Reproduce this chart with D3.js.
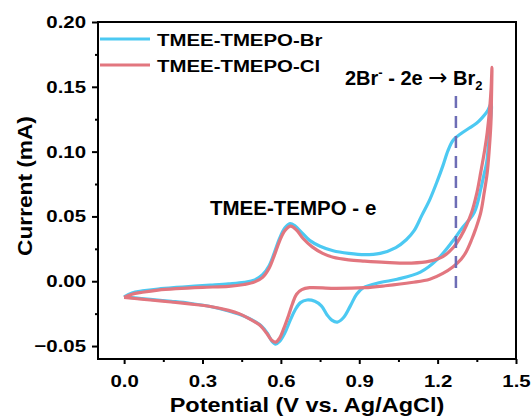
<!DOCTYPE html>
<html>
<head>
<meta charset="utf-8">
<script src="https://cdn.jsdelivr.net/npm/d3@7"></script>
<style>
  body { margin: 0; background: #fff; }
  svg text { font-family: "Liberation Sans", Arial, sans-serif; font-weight: bold; fill: #000; }
</style>
</head>
<body>
<div id="chart"></div>
<script>
// potential (V) / current (mA)
const brForward = [
  [0.00,-0.0120],[0.03,-0.0090],[0.07,-0.0075],[0.13,-0.0060],[0.20,-0.0048],[0.27,-0.0038],
  [0.33,-0.0030],[0.40,-0.0020],[0.46,-0.0008],[0.50,0.0010],[0.53,0.0050],[0.555,0.0120],
  [0.575,0.0220],[0.595,0.0330],[0.615,0.0410],[0.635,0.0445],[0.655,0.0425],[0.68,0.0375],
  [0.71,0.0315],[0.75,0.0270],[0.80,0.0235],[0.86,0.0215],[0.92,0.0205],[0.98,0.0215],
  [1.04,0.0260],[1.08,0.0320],[1.11,0.0390],[1.14,0.0510],[1.17,0.0630],[1.20,0.0780],
  [1.22,0.0890],[1.24,0.1010],[1.26,0.1090],[1.29,0.1140],[1.32,0.1180],[1.35,0.1220],
  [1.37,0.1260],[1.39,0.1310],[1.405,0.1370]
];
const brReverse = [
  [1.405,0.1370],[1.398,0.1150],[1.388,0.0920],[1.375,0.0800],[1.365,0.0710],[1.34,0.0530],
  [1.29,0.0400],[1.258,0.0310],[1.20,0.0170],[1.134,0.0070],[1.045,0.0015],[0.98,-0.0010],
  [0.916,-0.0050],[0.89,-0.0100],[0.866,-0.0190],[0.84,-0.0280],[0.816,-0.0315],[0.795,-0.0300],
  [0.777,-0.0260],[0.755,-0.0190],[0.73,-0.0155],[0.70,-0.0145],[0.675,-0.0165],[0.655,-0.0220],
  [0.636,-0.0300],[0.615,-0.0400],[0.595,-0.0465],[0.58,-0.0485],[0.565,-0.0460],[0.548,-0.0400],
  [0.525,-0.0345],[0.50,-0.0310],[0.46,-0.0270],[0.40,-0.0230],[0.33,-0.0195],[0.25,-0.0170],
  [0.18,-0.0155],[0.10,-0.0140],[0.05,-0.0130],[0.00,-0.0120]
];
const clForward = [
  [0.00,-0.0125],[0.03,-0.0100],[0.07,-0.0085],[0.13,-0.0068],[0.20,-0.0057],[0.30,-0.0047],
  [0.40,-0.0040],[0.46,-0.0025],[0.50,-0.0005],[0.53,0.0030],[0.555,0.0100],[0.575,0.0200],
  [0.595,0.0310],[0.615,0.0390],[0.638,0.0425],[0.66,0.0395],[0.685,0.0330],[0.72,0.0265],
  [0.76,0.0215],[0.80,0.0185],[0.86,0.0165],[0.92,0.0155],[1.00,0.0145],[1.10,0.0140],
  [1.17,0.0155],[1.22,0.0190],[1.26,0.0260],[1.29,0.0350],[1.31,0.0430],[1.33,0.0530],
  [1.35,0.0680],[1.365,0.0840],[1.38,0.1010],[1.39,0.1150],[1.40,0.1350],[1.405,0.1500],
  [1.408,0.1650]
];
const clReverse = [
  [1.408,0.1650],[1.406,0.1400],[1.404,0.1220],[1.397,0.1000],[1.39,0.0840],[1.378,0.0680],
  [1.365,0.0530],[1.345,0.0400],[1.33,0.0320],[1.31,0.0230],[1.29,0.0170],[1.258,0.0110],
  [1.22,0.0060],[1.17,0.0015],[1.10,-0.0010],[1.00,-0.0035],[0.92,-0.0050],[0.80,-0.0055],
  [0.71,-0.0050],[0.68,-0.0065],[0.66,-0.0100],[0.645,-0.0170],[0.63,-0.0260],[0.61,-0.0370],
  [0.595,-0.0440],[0.58,-0.0470],[0.565,-0.0455],[0.545,-0.0400],[0.52,-0.0340],[0.48,-0.0290],
  [0.44,-0.0250],[0.40,-0.0225],[0.33,-0.0195],[0.25,-0.0175],[0.18,-0.0160],[0.10,-0.0145],
  [0.05,-0.0135],[0.00,-0.0125]
];
const seriesNames = ["TMEE-TMEPO-Br", "TMEE-TMEPO-Cl"];
const seriesColors = ["#4cc9f2", "#e2767f"];
const xTicks = [0.0, 0.3, 0.6, 0.9, 1.2, 1.5];
const xMinor = [0.15, 0.45, 0.75, 1.05, 1.35];
const yTicks = [-0.05, 0.00, 0.05, 0.10, 0.15, 0.20];
const yMinor = [-0.025, 0.025, 0.075, 0.125, 0.175];
const markerV = 1.27;          // dashed line position
const markerRange = [-0.009, 0.143];

const width = 532, height = 419;
const plot = {left: 98, right: 516, top: 22, bottom: 359};
const sx = 1.2;                // text in the picture is a bit wide

let svg = d3.select("#chart").append("svg")
    .attr("width", width)
    .attr("height", height);

let x = d3.scaleLinear().domain([-0.1, 1.5]).range([plot.left, plot.right]);
let y = d3.scaleLinear().domain([-0.06, 0.20]).range([plot.bottom, plot.top]);

let line = d3.line()
    .x(d => x(d[0]))
    .y(d => y(d[1]))
    .curve(d3.curveCatmullRom.alpha(0.5));

// curves: Br first, Cl on top
[[brForward, brReverse], [clForward, clReverse]].forEach(function(branches, i){
    svg.append("path")
        .datum(branches[0].concat(branches[1].slice(1)))
        .attr("d", line)
        .attr("fill", "none")
        .attr("stroke", seriesColors[i])
        .attr("stroke-width", 3.2)
        .attr("stroke-linejoin", "round");
});

// dashed marker
svg.append("line")
    .attr("x1", x(markerV)).attr("x2", x(markerV))
    .attr("y1", y(markerRange[1])).attr("y2", y(markerRange[0]))
    .attr("stroke", "#6d6db5")
    .attr("stroke-width", 2.5)
    .attr("stroke-dasharray", "12,8");

// axes
let xAxis = svg.append("g")
    .attr("transform", "translate(0," + plot.bottom + ")")
    .call(d3.axisBottom(x).tickValues(xTicks).tickFormat(d3.format(".1f")).tickSize(5).tickPadding(11));
let xAxisMinor = svg.append("g")
    .attr("transform", "translate(0," + plot.bottom + ")")
    .call(d3.axisBottom(x).tickValues(xMinor).tickFormat("").tickSize(3));
let yAxis = svg.append("g")
    .attr("transform", "translate(" + plot.left + ",0)")
    .call(d3.axisLeft(y).tickValues(yTicks).tickFormat(d3.format(".2f")).tickSize(6).tickPadding(4));
let yAxisMinor = svg.append("g")
    .attr("transform", "translate(" + plot.left + ",0)")
    .call(d3.axisLeft(y).tickValues(yMinor).tickFormat("").tickSize(3));

svg.selectAll(".domain").remove();
svg.selectAll(".tick line").attr("stroke", "#000").attr("stroke-width", 2);
xAxis.selectAll("text").style("font-size", "17px").attr("transform", "scale(" + sx + ",1)");
yAxis.selectAll("text").style("font-size", "17px").attr("transform", "scale(" + sx + ",1)");

// frame
svg.append("rect")
    .attr("x", plot.left).attr("y", plot.top)
    .attr("width", plot.right - plot.left)
    .attr("height", plot.bottom - plot.top)
    .attr("fill", "none")
    .attr("stroke", "#000")
    .attr("stroke-width", 2);

function label(px, py, size, stretch, anchor, rot){
    let g = svg.append("g")
        .attr("transform", "translate(" + px + "," + py + ")" + (rot ? " rotate(" + rot + ")" : "") + " scale(" + stretch + ",1)");
    return g.append("text")
        .attr("text-anchor", anchor)
        .style("font-size", size + "px");
}

label(307, 412, 21, 1.12, "middle").text("Potential (V vs. Ag/AgCl)");
label(32, 186, 21, 1.08, "middle", -90).text("Current (mA)");

// legend
seriesNames.forEach(function(name, i){
    let ly = 39 + i * 26;
    svg.append("line")
        .attr("x1", 100).attr("x2", 150)
        .attr("y1", ly).attr("y2", ly)
        .attr("stroke", seriesColors[i])
        .attr("stroke-width", 3);
    label(157, ly + 6.5, 17, sx, "start").text(name);
});

// annotations
label(210, 215, 20.5, 1.0, "start").text("TMEE-TEMPO - e");
let t = label(345, 85, 20, 1.0, "start");
t.append("tspan").text("2Br");
t.append("tspan").attr("dy", -8).style("font-size", "13px").text("-");
t.append("tspan").attr("dy", 8).text(" - 2e ");
t.append("tspan").style("font-family", "'DejaVu Sans'").style("font-weight", "normal")
    .style("font-size", "23px").text("\u2192");
t.append("tspan").text(" Br");
t.append("tspan").attr("dy", 5).style("font-size", "13px").text("2");
</script>
</body>
</html>
